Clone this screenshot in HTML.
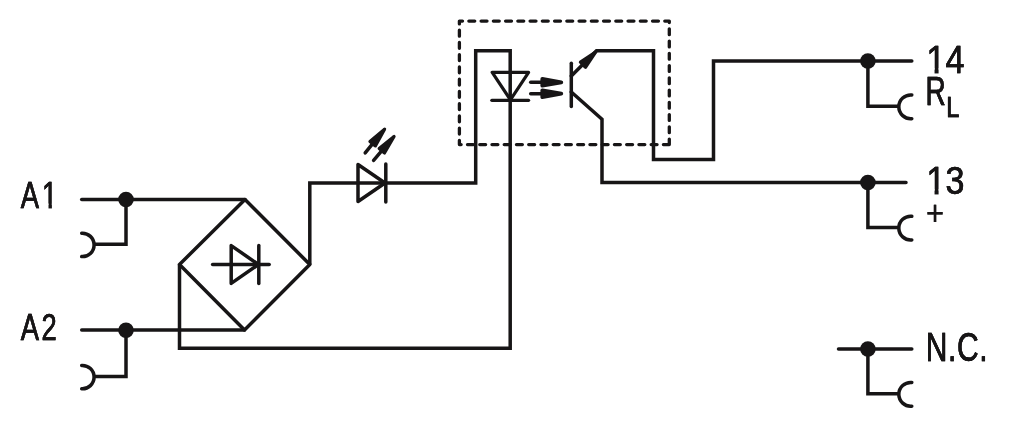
<!DOCTYPE html>
<html lang="en">
<head>
<meta charset="utf-8">
<title>Circuit diagram</title>
<style>
html,body{margin:0;padding:0;background:#fff;}
body{width:1024px;height:434px;overflow:hidden;}
svg{display:block;}
.w{fill:none;stroke:#171516;stroke-width:3.5;stroke-linecap:butt;stroke-linejoin:miter;}
.t{fill:none;stroke:#171516;stroke-width:3.5;stroke-linecap:round;stroke-linejoin:round;}
.m{stroke-linejoin:miter;}
.d{fill:#171516;stroke:none;}
.h{fill:#171516;stroke:#171516;stroke-linejoin:round;}
.dash{fill:none;stroke:#171516;stroke-width:3.3;stroke-linecap:round;stroke-linejoin:round;stroke-dasharray:5.9 6.345;}
text{font-family:"Liberation Sans",sans-serif;fill:#171516;stroke:#171516;stroke-linejoin:miter;}
</style>
</head>
<body>
<svg width="1024" height="434" viewBox="0 0 1024 434">
<rect width="1024" height="434" fill="#fff"/>
<!-- input terminals A1 / A2 -->
<path class="t" d="M81.7 199.5H245"/>
<path class="w" d="M126 199.5V244.3H94"/>
<path class="t" d="M81.7 233.22A11.7 11.7 0 1 1 81.7 256.58"/>
<circle class="d" cx="126" cy="199.5" r="7.8"/>
<path class="t" d="M81.7 330H244.5"/>
<path class="w" d="M126 330V376.5H94"/>
<path class="t" d="M81.7 365.42A11.7 11.7 0 1 1 81.7 388.78"/>
<circle class="d" cx="126" cy="330.2" r="7.8"/>
<!-- bridge rectifier -->
<path class="t" d="M245 199.5L309.8 264.5L244.5 330L179.5 264.5Z"/>
<path class="w" d="M179.5 264.5V348.2H510.2V50.7H475.7V183H309.8V264.5"/>
<g style="stroke-width:3.2">
<path class="t" d="M212.6 264.5H269.2"/>
<path class="t" d="M231.2 245.6V283.4L258.5 264.5Z"/>
<path class="t" d="M258.8 245.6V283.4"/>
</g>
<!-- status LED -->
<path class="t" d="M358 164.5V201.5L385 183Z"/>
<path class="t" d="M385.8 164.1V201.9"/>
<path class="t" style="stroke-width:3.5" d="M365.2 152.8L373.94 142.13"/>
<path class="h" style="stroke-width:3.2" d="M384.59 129.14L375.38 145.9L369.96 141.46Z"/>
<path class="t" style="stroke-width:3.5" d="M373.6 160.3L383.13 149.17"/>
<path class="h" style="stroke-width:3.2" d="M394.06 136.42L384.49 152.97L379.17 148.42Z"/>
<!-- optocoupler -->
<path class="dash" d="M669.3 144.6H459.4V21.1H669.3V144.6"/>
<path class="t" style="stroke-width:3.2" d="M492.2 72.4H528.6L510.4 99.8Z"/>
<path class="t" style="stroke-width:3.2" d="M491.8 100.3H528.6"/>
<path class="t" style="stroke-width:3.5" d="M530.7 82.3L544.3 82.3"/>
<path class="h" style="stroke-width:3.8" d="M561.3 82.3L542.3 85.7L542.3 78.9Z"/>
<path class="t" style="stroke-width:3.5" d="M530.7 93.7L544.3 93.7"/>
<path class="h" style="stroke-width:3.8" d="M561.3 93.7L542.3 97.1L542.3 90.3Z"/>
<path class="t" d="M571.3 63.2V106.5"/>
<path class="t m" d="M571.3 76L596.5 50.8H653.5V159.4H713.5V61H911.8"/>
<path class="t m" d="M571.3 92L602 119.3V182.5H906"/>
<path class="h" style="stroke-width:3.2" d="M595.97 51.73L585.5 67.29L580.41 62.2Z"/>
<!-- output terminals -->
<path class="w" d="M867.9 61V106.3H898.8"/>
<path class="t" d="M911.8 94.95A11.9 11.9 0 1 0 911.8 118.65"/>
<circle class="d" cx="867.9" cy="61" r="7.8"/>
<path class="w" d="M867.9 182.5V227.6H898.8"/>
<path class="t" d="M911.8 216.25A11.9 11.9 0 1 0 911.8 239.95"/>
<circle class="d" cx="867.9" cy="182.5" r="7.8"/>
<path class="t" d="M838.5 349H911.8"/>
<path class="w" d="M867.9 349V393.8H898.8"/>
<path class="t" d="M911.8 382.45A11.9 11.9 0 1 0 911.8 406.15"/>
<circle class="d" cx="867.9" cy="349" r="7.8"/>
<defs>
<filter id="fx" x="-20%" y="-20%" width="140%" height="140%" color-interpolation-filters="sRGB">
<feOffset in="SourceGraphic" dx="0.3" dy="0" result="a"/>
<feOffset in="SourceGraphic" dx="-0.3" dy="0" result="b"/>
<feMerge><feMergeNode in="a"/><feMergeNode in="b"/></feMerge>
</filter>
<clipPath id="c1"><path clip-rule="evenodd" d="M-20 -60H200V30H-20ZM29.1 -4.31H37.38V4H29.1ZM41.96 -4.31H49.45V4H41.96Z"/></clipPath>
<clipPath id="c2"><path clip-rule="evenodd" d="M-20 -60H200V30H-20ZM0.4 -4.51H9.36V4H0.4ZM14.05 -4.51H22.18V4H14.05Z"/></clipPath>
<clipPath id="c3"><path clip-rule="evenodd" d="M-20 -60H200V30H-20ZM0.4 -4.51H9.36V4H0.4ZM14.05 -4.51H22.18V4H14.05Z"/></clipPath>
</defs>
<!-- labels -->
<text transform="translate(20.85 207.7) scale(0.74 1)" font-size="37" clip-path="url(#c1)" filter="url(#fx)" stroke-width="0.5" style="letter-spacing:4.05px">A1</text>
<text transform="translate(20.85 339.5) scale(0.74 1)" font-size="37" filter="url(#fx)" stroke-width="0.5" style="letter-spacing:3.38px">A2</text>
<text transform="translate(926.5 72.8) scale(0.86 1)" font-size="39.6" clip-path="url(#c2)" filter="url(#fx)" stroke-width="0.5">14</text>
<text transform="translate(926.5 193.8) scale(0.86 1)" font-size="39.6" clip-path="url(#c3)" filter="url(#fx)" stroke-width="0.5">13</text>
<text transform="translate(925.6 105) scale(0.68 1)" font-size="41.3" filter="url(#fx)" stroke-width="0.5">R</text>
<text transform="translate(946.2 117) scale(0.8 1)" font-size="29.5" filter="url(#fx)" stroke-width="0.65">L</text>
<text transform="translate(925.9 224.8) scale(0.86 1)" font-size="36" filter="url(#fx)" stroke-width="0.1">+</text>
<text transform="translate(925.8 361) scale(0.75 1)" font-size="40" filter="url(#fx)" stroke-width="0.5" style="letter-spacing:0.84px">N.C.</text>
</svg>
</body>
</html>
